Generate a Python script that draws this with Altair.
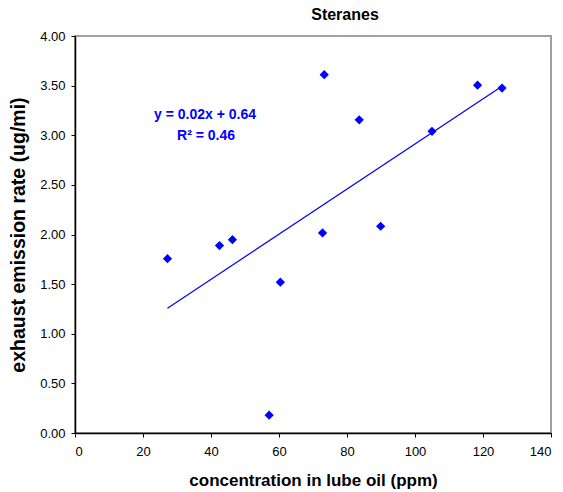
import altair as alt
import pandas as pd

conc_ppm = [27.2, 42.5, 46.3, 57.1, 60.4, 72.8, 73.3, 83.6, 89.9, 105.0, 118.4, 125.6]
emission = [1.756, 1.888, 1.948, 0.179, 1.52, 2.016, 3.61, 3.155, 2.083, 3.04, 3.505, 3.475]
eq_lines = ["y = 0.02x + 0.64", "R² = 0.46"]
x_ticks = [0, 20, 40, 60, 80, 100, 120, 140]
y_ticks = [0, 0.5, 1.0, 1.5, 2.0, 2.5, 3.0, 3.5, 4.0]

df = pd.DataFrame({"x": conc_ppm, "y": emission})

FONT = "Liberation Sans"
BLUE = "#0000FF"

xscale = alt.Scale(domain=[0, 140], nice=False, zero=False)
yscale = alt.Scale(domain=[0, 4], nice=False, zero=False)

xenc = alt.X("x:Q", scale=xscale,
             axis=alt.Axis(title="concentration in lube oil (ppm)", values=x_ticks,
                           format="d", grid=False, labelPadding=8, titlePadding=14,
                           titleFontSize=17))
yenc = alt.Y("y:Q", scale=yscale,
             axis=alt.Axis(title="exhaust emission rate (ug/mi)", values=y_ticks,
                           format=".2f", grid=False, labelPadding=6, titlePadding=11,
                           titleFontSize=19.5))

base = alt.Chart(df)

points = base.mark_point(shape="diamond", filled=True, color=BLUE, size=85, opacity=1).encode(
    x=xenc, y=yenc)

trend = base.transform_regression("x", "y").mark_line(color=BLUE, strokeWidth=1.2).encode(
    x=alt.X("x:Q", scale=xscale), y=alt.Y("y:Q", scale=yscale))

eq1 = alt.Chart(pd.DataFrame({"t": [eq_lines[0]]})).mark_text(
    font=FONT, fontSize=14, fontWeight="bold", color=BLUE, align="center", baseline="middle"
).encode(x=alt.value(130), y=alt.value(79), text="t:N")
eq2 = alt.Chart(pd.DataFrame({"t": [eq_lines[1]]})).mark_text(
    font=FONT, fontSize=14, fontWeight="bold", color=BLUE, align="center", baseline="middle"
).encode(x=alt.value(131), y=alt.value(100), text="t:N")

chart = alt.layer(trend, points, eq1, eq2).properties(
    width=476, height=397,
    title=alt.TitleParams("Steranes", font=FONT, fontSize=16, fontWeight="bold",
                          color="black", anchor="middle", dx=32, offset=7),
    autosize=alt.AutoSizeParams(type="none"),
    padding={"left": 75, "top": 36, "right": 12, "bottom": 59},
).configure_view(
    stroke="#a0a0a0", strokeWidth=2
).configure_axis(
    labelFont=FONT, labelFontSize=13, labelColor="black",
    titleFont=FONT, titleFontWeight="bold", titleColor="black",
    domainColor="black", domainWidth=1.5, tickColor="black", tickSize=4, tickWidth=1,
)

chart.save("out.html", embed_options={"renderer": "svg", "actions": False})
